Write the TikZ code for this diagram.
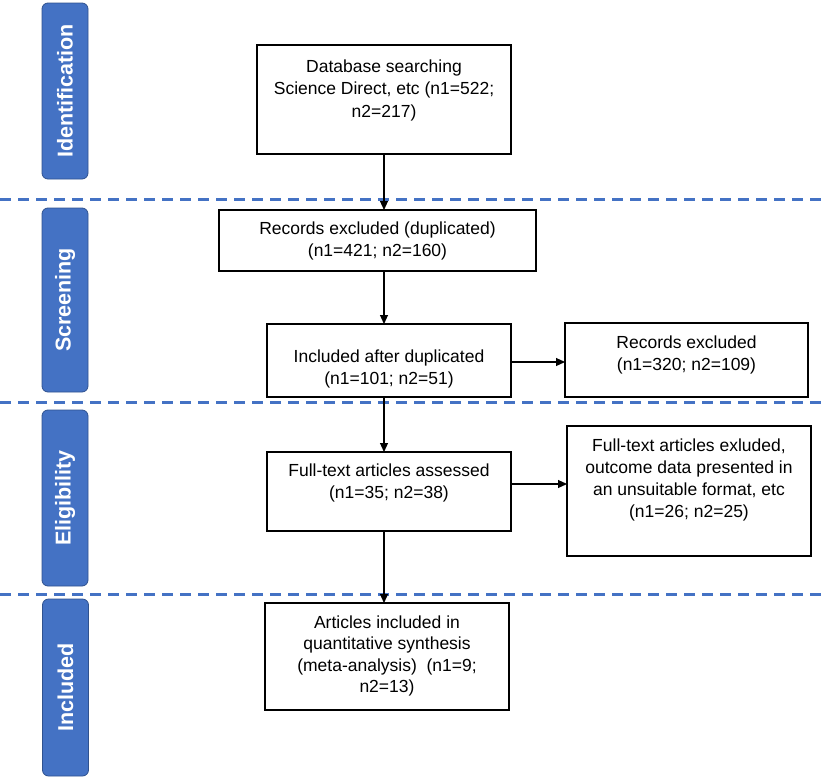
\documentclass[tikz,border=0pt]{standalone}
\usepackage{fontspec}
\setmainfont{Liberation Sans}
\usetikzlibrary{arrows.meta,calc}
\definecolor{sepblue}{HTML}{4472C4}
\definecolor{labfill}{HTML}{4472C4}
\definecolor{labedge}{HTML}{2F528F}
\newcommand\flowtext[4]{\parbox[c][#2pt][t]{#1pt}{\centering\vspace*{#3pt}#4\par}}
\tikzset{
  flowbox/.style={draw=black, line width=1.1pt, fill=white, inner sep=0pt, outer sep=0pt,
    font=\fontsize{17.5}{22.5}\selectfont},
  phase/.style={draw=labedge, line width=0.8pt, fill=labfill, rounded corners=6pt,
    rotate=90, minimum height=46pt, inner sep=0pt, text=white,
    font=\bfseries\fontsize{21.5}{24}\selectfont},
  sepline/.style={draw=sepblue, line width=3pt, dash pattern=on 11pt off 7pt},
  arr/.style={draw=black, line width=1.1pt, -{Triangle[length=9pt,width=8pt]}}
}
\begin{document}
\begin{tikzpicture}[x=1pt,y=-1pt]
\useasboundingbox (0,0) rectangle (827,779);
% phase separators
\draw[sepline] (0,199.5) -- (827,199.5);
\draw[sepline] (0,402) -- (827,402);
\draw[sepline] (0,594) -- (827,594);
% phase labels
\node[phase, minimum width=176pt] (pid) at (65,91) {Identification};
\node[phase, minimum width=184pt] (psc) at (65,300) {Screening};
\node[phase, minimum width=176pt] (pel) at (65,498) {Eligibility};
\node[phase, minimum width=177pt] (pin) at (65.5,687.5) {Included};
% flow boxes
\node[flowbox] (b1) at (384,99.5) {\flowtext{254}{109}{14.5}{Database searching\\Science Direct, etc (n1=522;\\n2=217)}};
\node[flowbox] (b2) at (377.5,240.5) {\flowtext{317}{61}{11.5}{Records excluded (duplicated)\\(n1=421; n2=160)}};
\node[flowbox] (b3) at (389,360.5) {\flowtext{244}{73}{25.5}{Included after duplicated\\(n1=101; n2=51)}};
\node[flowbox] (b4) at (686.5,360) {\flowtext{243}{74}{12.5}{Records excluded\\(n1=320; n2=109)}};
\node[flowbox] (b5) at (389,491.5) {\flowtext{244}{79}{11.5}{Full-text articles assessed\\(n1=35; n2=38)}};
\node[flowbox, font=\fontsize{17.5}{22}\selectfont] (b6) at (689,491) {\flowtext{244}{130}{12.5}{Full-text articles exluded,\\outcome data presented in\\an unsuitable format, etc\\(n1=26; n2=25)}};
\node[flowbox, font=\fontsize{17.5}{21.5}\selectfont] (b7) at (387,656.5) {\flowtext{244}{107}{12.5}{Articles included in\\quantitative synthesis\\(meta-analysis)\ \ (n1=9;\\n2=13)}};
% connectors
\draw[arr] (b1.south) -- (b1.south |- b2.north);
\draw[arr] (b2.south -| b1.south) -- (b3.north -| b1.south);
\draw[arr] (b3.south -| b1.south) -- (b5.north -| b1.south);
\draw[arr] (b5.south -| b1.south) -- (b7.north -| b1.south);
\draw[arr] ([yshift=-1.5pt]b3.east) -- ([yshift=-1.5pt]b3.east -| b4.west);
\draw[arr] ([yshift=7.5pt]b5.east) -- ([yshift=7.5pt]b5.east -| b6.west);
\end{tikzpicture}
\end{document}
